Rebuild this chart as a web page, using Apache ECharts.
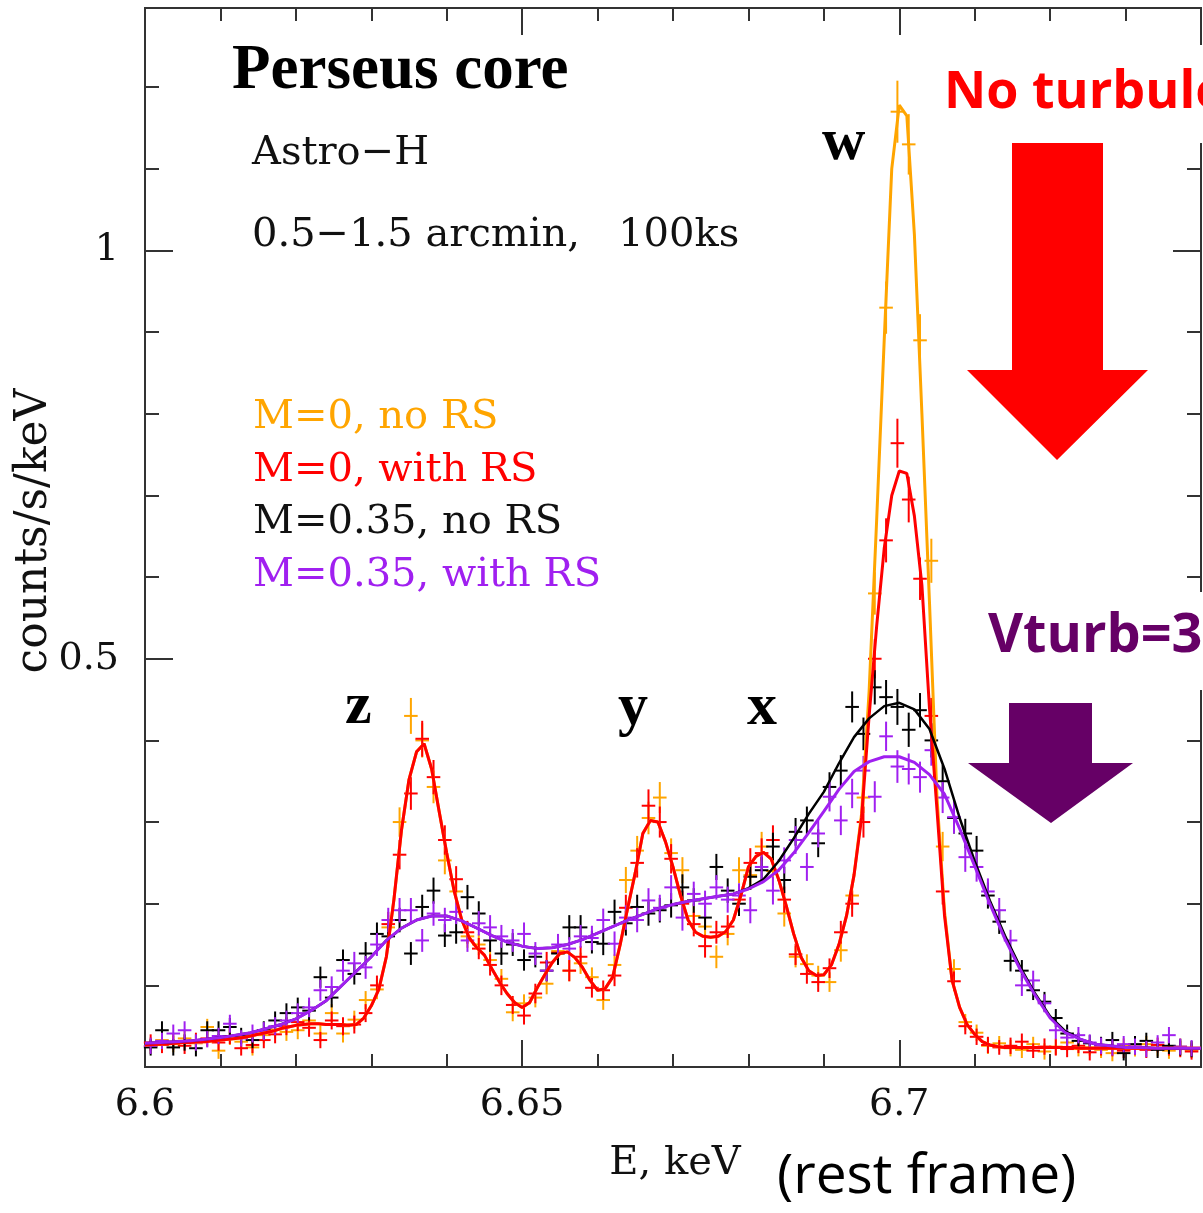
<!DOCTYPE html>
<html><head><meta charset="utf-8">
<script src="https://cdn.jsdelivr.net/npm/echarts@6/dist/echarts.min.js"></script>
<style>html,body{margin:0;padding:0;background:#fff}#c{width:1203px;height:1213px}</style>
</head><body><div id="c"></div>
<script>
// ---------------- axis ticks ----------------
const xTickLabels = ['6.6', '6.65', '6.7'];
const yTickLabels = ['0.5', '1'];

// ---------------- model curves ----------------
// M=0 models on a 0.001 keV grid 6.600 .. 6.740
const modelFineStart = 6.600, modelFineStep = 0.001;
const modelRedNoTurb = [
0.027,0.0275,0.028,0.0285,0.029,0.030,0.030,0.031,0.031,0.032,
0.033,0.034,0.035,0.036,0.038,0.040,0.042,0.044,0.047,0.049,
0.051,0.052,0.053,0.053,0.052,0.052,0.052,0.051,0.052,0.060,
0.075,0.095,0.135,0.205,0.290,0.352,0.386,0.396,0.365,0.313,
0.262,0.215,0.180,0.158,0.146,0.137,0.120,0.104,0.090,0.079,
0.073,0.079,0.097,0.113,0.128,0.139,0.141,0.134,0.122,0.106,
0.094,0.096,0.110,0.150,0.195,0.238,0.286,0.302,0.300,0.276,
0.245,0.210,0.180,0.165,0.160,0.159,0.160,0.166,0.180,0.210,
0.245,0.258,0.263,0.255,0.230,0.198,0.163,0.134,0.118,0.112,
0.113,0.125,0.150,0.185,0.235,0.305,0.430,0.540,0.635,0.700,
0.730,0.727,0.675,0.590,0.440,0.315,0.185,0.106,0.073,0.052,
0.040,0.031,0.027,0.025,0.024,0.024,0.024,0.024,0.024,0.024,
0.024,0.024,0.024,0.024,0.023,0.023,0.023,0.023,0.023,0.023,
0.023,0.023,0.023,0.023,0.023,0.023,0.023,0.023,0.023,0.023,
0.023];
const modelOrangeNoTurb = [
0.027,0.0275,0.028,0.0285,0.029,0.030,0.030,0.031,0.031,0.032,
0.033,0.034,0.035,0.036,0.038,0.040,0.042,0.044,0.047,0.049,
0.051,0.052,0.053,0.053,0.052,0.052,0.052,0.051,0.052,0.060,
0.075,0.095,0.135,0.205,0.290,0.352,0.386,0.396,0.365,0.313,
0.262,0.215,0.180,0.158,0.146,0.137,0.120,0.104,0.090,0.079,
0.073,0.079,0.097,0.113,0.128,0.139,0.141,0.134,0.122,0.106,
0.094,0.096,0.110,0.150,0.195,0.238,0.286,0.302,0.300,0.276,
0.245,0.210,0.180,0.165,0.160,0.159,0.160,0.166,0.180,0.210,
0.245,0.258,0.263,0.255,0.230,0.198,0.163,0.134,0.118,0.112,
0.113,0.125,0.150,0.185,0.235,0.310,0.460,0.670,0.890,1.100,
1.178,1.165,1.020,0.800,0.570,0.330,0.190,0.106,0.073,0.052,
0.040,0.031,0.027,0.025,0.024,0.024,0.024,0.024,0.024,0.024,
0.024,0.024,0.024,0.024,0.023,0.023,0.023,0.023,0.023,0.023,
0.023,0.023,0.023,0.023,0.023,0.023,0.023,0.023,0.023,0.023,
0.023];
// M=0.35 models on a 0.002 keV grid 6.600 .. 6.740
const modelCoarseStart = 6.600, modelCoarseStep = 0.002;
const modelBlackTurb = [
0.029,0.030,0.031,0.032,0.034,0.036,0.039,0.042,0.047,0.052,
0.059,0.069,0.081,0.099,0.117,0.135,0.155,0.170,0.180,0.185,
0.185,0.179,0.170,0.161,0.153,0.148,0.145,0.146,0.150,0.156,
0.164,0.172,0.180,0.187,0.194,0.199,0.203,0.206,0.209,0.212,
0.219,0.230,0.252,0.280,0.310,0.337,0.372,0.404,0.427,0.442,
0.446,0.438,0.414,0.365,0.305,0.252,0.204,0.161,0.123,0.090,
0.062,0.044,0.034,0.028,0.026,0.024,0.024,0.023,0.023,0.023,
0.023];
const modelPurpleTurb = [
0.029,0.030,0.031,0.032,0.034,0.036,0.039,0.042,0.047,0.052,
0.059,0.069,0.081,0.099,0.117,0.135,0.155,0.170,0.180,0.185,
0.185,0.179,0.170,0.161,0.153,0.148,0.145,0.146,0.150,0.156,
0.164,0.172,0.180,0.187,0.194,0.199,0.203,0.206,0.209,0.212,
0.218,0.227,0.241,0.262,0.287,0.313,0.340,0.362,0.374,0.380,
0.380,0.373,0.358,0.334,0.292,0.246,0.200,0.157,0.120,0.088,
0.060,0.042,0.034,0.028,0.026,0.024,0.024,0.023,0.023,0.023,
0.023];

// ---------------- simulated spectra (bins of 0.0015 keV, centres from 6.60075) ----------------
const binStart = 6.60075, binStep = 0.0015, crossHalfWidth = 0.0009;
const dataOrange = [
0.026,0.033,0.028,0.035,0.029,0.049,0.020,0.037,0.031,0.024,
0.039,0.046,0.043,0.045,0.057,0.041,0.066,0.041,0.058,0.082,
0.095,0.171,0.300,0.430,0.400,0.343,0.253,0.215,0.160,0.150,
0.131,0.108,0.067,0.078,0.085,0.102,0.142,0.118,0.127,0.110,
0.082,0.125,0.229,0.265,0.305,0.330,0.262,0.241,0.185,0.172,
0.135,0.163,0.241,0.235,0.270,0.240,0.188,0.135,0.126,0.112,
0.104,0.143,0.210,0.330,0.580,0.930,1.170,1.130,0.890,0.620,
0.270,0.120,0.055,0.042,0.026,0.029,0.023,0.021,0.028,0.019,
0.025,0.030,0.022,0.024,0.021,0.017,0.026,0.023,0.028,0.022,
0.020,0.025,0.021];
const errOrange = [
10,10,10,10,10,10,10,10,9,10,10,11,11,11,11,10,11,11,11,
11,12,15,18,22,21,20,17,16,14,13,13,12,11,11,12,13,13,13,13,12,12,13,16,18,20,19,18,16,15,14,14,14,16,18,18,18,16,13,12,12,12,14,16,19,26,32,38,37,32,27,18,12,10,10,
10,9,10,10,9,10,10,10,9,10,10,10,9,10,10,9,10,10,10];
const dataRed = [
0.030,0.027,0.031,0.026,0.032,0.035,0.030,0.038,0.023,0.027,
0.033,0.040,0.050,0.055,0.048,0.033,0.057,0.050,0.052,0.066,
0.100,0.175,0.260,0.335,0.402,0.355,0.278,0.230,0.165,0.145,
0.125,0.100,0.076,0.063,0.090,0.128,0.140,0.118,0.135,0.097,
0.094,0.112,0.195,0.250,0.320,0.300,0.255,0.200,0.175,0.148,
0.165,0.172,0.205,0.250,0.262,0.278,0.205,0.138,0.114,0.104,
0.121,0.165,0.200,0.300,0.500,0.645,0.764,0.695,0.598,0.430,
0.215,0.105,0.050,0.037,0.027,0.024,0.026,0.031,0.020,0.025,
0.024,0.022,0.026,0.018,0.024,0.023,0.020,0.025,0.021,0.027,
0.024,0.022,0.019];
const errRed = [
10,10,10,10,10,10,10,10,9,10,10,11,11,11,11,10,11,11,11,
11,12,15,18,20,22,21,18,16,14,13,13,12,11,11,12,13,13,13,13,12,12,13,16,18,20,19,18,16,15,14,14,14,16,18,18,18,16,13,12,12,12,14,16,19,24,27,30,28,26,22,16,12,10,10,
10,9,10,10,9,10,10,10,9,10,10,10,9,10,10,9,10,10,10];
const dataBlack = [
0.024,0.045,0.024,0.030,0.023,0.045,0.045,0.049,0.038,0.033,
0.045,0.057,0.066,0.073,0.069,0.110,0.085,0.131,0.114,0.139,
0.163,0.160,0.180,0.139,0.196,0.216,0.161,0.165,0.208,0.188,
0.155,0.139,0.150,0.131,0.135,0.118,0.139,0.171,0.171,0.153,
0.151,0.190,0.176,0.196,0.188,0.192,0.198,0.220,0.204,0.183,
0.245,0.216,0.200,0.233,0.241,0.270,0.229,0.288,0.302,0.274,
0.343,0.363,0.441,0.408,0.465,0.453,0.441,0.413,0.437,0.400,
0.350,0.305,0.286,0.265,0.210,0.178,0.130,0.118,0.094,0.080,
0.060,0.041,0.032,0.029,0.027,0.033,0.017,0.028,0.032,0.021,
0.026,0.024,0.022];
const errBlack = [
10,11,10,10,10,11,11,11,10,10,11,11,12,12,12,13,12,13,13,
14,14,14,15,14,15,16,14,14,15,15,14,14,14,13,13,13,14,15,15,14,14,15,15,15,15,15,15,16,15,15,16,15,15,16,16,17,16,17,17,17,18,19,19,20,21,21,22,21,21,21,20,19,18,18,
16,15,13,13,12,12,11,11,10,10,10,10,9,10,10,10,10,10,10];
const dataPurple = [
0.026,0.032,0.041,0.045,0.030,0.034,0.038,0.053,0.035,0.041,
0.044,0.050,0.057,0.066,0.073,0.094,0.098,0.118,0.127,0.122,
0.150,0.180,0.192,0.192,0.155,0.188,0.180,0.190,0.155,0.176,
0.171,0.160,0.155,0.163,0.139,0.118,0.150,0.145,0.160,0.158,
0.180,0.151,0.183,0.180,0.204,0.195,0.220,0.183,0.212,0.200,
0.220,0.205,0.210,0.192,0.245,0.216,0.253,0.278,0.245,0.286,
0.331,0.302,0.335,0.363,0.331,0.405,0.368,0.365,0.355,0.388,
0.330,0.306,0.257,0.245,0.215,0.192,0.155,0.100,0.106,0.078,
0.045,0.036,0.039,0.030,0.026,0.024,0.028,0.025,0.022,0.030,
0.039,0.025,0.023];
const errPurple = [
10,10,11,11,10,10,10,11,10,11,11,11,12,12,12,13,13,13,14,
14,14,15,15,15,14,15,15,15,14,15,15,14,14,14,14,13,13,14,14,15,14,15,15,15,15,16,15,16,15,16,15,16,15,16,16,17,16,17,17,17,18,18,18,18,19,18,20,19,19,19,19,20,18,18,
16,15,13,13,12,11,11,10,10,10,10,10,10,10,10,9,10,10,10];

const COL = {orange:'#FFA500', red:'#FF0000', black:'#000000', purple:'#A020F0'};

function modelPairs(start, step, vals){ return vals.map((v,i)=>[+(start+i*step).toFixed(4), v]); }
function binRows(vals, errs){ return vals.map((v,i)=>[+(binStart+i*binStep).toFixed(5), v, crossHalfWidth, errs[i]/1000]); }

function crossSeries(name, color, rows){
  return {
    name, type:'custom', xAxisIndex:0, yAxisIndex:0, data:rows, encode:{x:0,y:1},
    renderItem:function(params, api){
      const e=api.value(0), v=api.value(1), hw=api.value(2), er=api.value(3);
      const l=api.coord([e-hw,v]), r=api.coord([e+hw,v]);
      const t=api.coord([e,v+er]), b=api.coord([e,v-er]);
      const st={stroke:color, lineWidth:2};
      return {type:'group', children:[
        {type:'line', shape:{x1:l[0],y1:l[1],x2:r[0],y2:r[1]}, style:st},
        {type:'line', shape:{x1:t[0],y1:t[1],x2:b[0],y2:b[1]}, style:st}
      ]};
    }
  };
}
function lineSeries(name, color, pairs, w){
  return {name, type:'line', xAxisIndex:0, yAxisIndex:0, data:pairs, showSymbol:false, symbol:'none',
    lineStyle:{color, width:w}, itemStyle:{color}};
}

const AXC = '#333';
const LBL = {fontFamily:'DejaVu Serif', fontSize:38, color:'#111'};
function xAx(gi, pos, interval, len, labels){
  return {gridIndex:gi, type:'value', position:pos, min:6.6, max:6.74, interval,
    axisLine:{show:true, onZero:false, lineStyle:{color:AXC, width:2}},
    axisTick:{show:true, inside:true, length:len, lineStyle:{color:AXC, width:2}},
    minorTick:{show:false}, splitLine:{show:false},
    axisLabel: labels ? Object.assign({show:true, margin:19, showMaxLabel:false,
      formatter:function(v){ const m=xTickLabels.find(s=>Math.abs(parseFloat(s)-v)<1e-6); return m||''; }}, LBL) : {show:false}};
}
function yAx(gi, pos, interval, len, labels){
  return {gridIndex:gi, type:'value', position:pos, min:0, max:1.297, interval,
    axisLine:{show:true, onZero:false, lineStyle:{color:AXC, width:2}},
    axisTick:{show:true, inside:true, length:len, lineStyle:{color:AXC, width:2}},
    minorTick:{show:false}, splitLine:{show:false},
    axisLabel: labels ? Object.assign({show:true, margin:26, showMaxLabel:false, showMinLabel:false,
      formatter:function(v){ const m=yTickLabels.find(s=>Math.abs(parseFloat(s)-v)<1e-6); return m||''; }}, LBL) : {show:false}};
}

const gridBox = {left:145, top:8, right:2, bottom:146, containLabel:false};

function txt(x, y, text, font, fill, extra){
  return Object.assign({type:'text', x, y, z:110, style:{text, font, fill, align:'left', verticalAlign:'middle'}}, extra||{});
}
const SERIF = '"DejaVu Serif", serif';
const graphics = [
  {type:'rect', z:100, shape:{x:938, y:45, width:270, height:98}, style:{fill:'#fff'}},
  {type:'rect', z:100, shape:{x:975, y:592, width:232, height:98}, style:{fill:'#fff'}},
  {type:'polygon', z:105, shape:{points:[[1012,143],[1103,143],[1103,370],[1148,370],[1057,460],[967,370],[1012,370]]}, style:{fill:'#FF0000'}},
  {type:'polygon', z:105, shape:{points:[[1009,703],[1092,703],[1092,763],[1133,763],[1051,823],[968,763],[1009,763]]}, style:{fill:'#660066'}},
  txt(232, 72, 'Perseus core', 'bold 63px "Liberation Serif"', '#000'),
  txt(252, 154, 'Astro\u2212H', '40px '+SERIF, '#111'),
  txt(252, 236, '0.5\u22121.5 arcmin,   100ks', '40px '+SERIF, '#111'),
  txt(253, 418, 'M=0, no RS', '40px '+SERIF, COL.orange),
  txt(253, 471, 'M=0, with RS', '40px '+SERIF, COL.red),
  txt(253, 523, 'M=0.35, no RS', '40px '+SERIF, '#111'),
  txt(253, 576, 'M=0.35, with RS', '40px '+SERIF, COL.purple),
  txt(822, 143, 'w', 'bold 60px "Liberation Serif"', '#000'),
  txt(345, 707, 'z', 'bold 60px "Liberation Serif"', '#000'),
  txt(618, 708, 'y', 'bold 60px "Liberation Serif"', '#000'),
  txt(747, 708, 'x', 'bold 60px "Liberation Serif"', '#000'),
  txt(944, 93, 'No turbulence', 'bold 52px "Open Sans"', '#FF0000'),
  txt(988, 637, 'Vturb=300 km/s', 'bold 54px "Open Sans"', '#660066'),
  txt(777, 1177, '(rest frame)', '55px "Open Sans"', '#000'),
  {type:'text', x:675, y:1164, z:110, style:{text:'E, keV', font:'40px '+SERIF, fill:'#111', align:'center', verticalAlign:'middle'}},
  {type:'text', x:35, y:531, z:110, rotation:Math.PI/2, style:{text:'counts/s/keV', font:'44px '+SERIF, fill:'#111', align:'center', verticalAlign:'middle'}}
];

const chart = echarts.init(document.getElementById('c'), null, {renderer:'canvas'});
chart.setOption({
  animation:false,
  backgroundColor:'#fff',
  grid:[gridBox, Object.assign({}, gridBox)],
  xAxis:[xAx(0,'bottom',0.05,27,true), xAx(0,'top',0.05,27,false), xAx(1,'bottom',0.01,13,false), xAx(1,'top',0.01,13,false)],
  yAxis:[yAx(0,'left',0.5,28,true), yAx(0,'right',0.5,28,false), yAx(1,'left',0.1,14,false), yAx(1,'right',0.1,14,false)],
  series:[
    crossSeries('M=0, no RS data', COL.orange, binRows(dataOrange, errOrange)),
    lineSeries('M=0, no RS', COL.orange, modelPairs(modelFineStart, modelFineStep, modelOrangeNoTurb), 3),
    crossSeries('M=0, with RS data', COL.red, binRows(dataRed, errRed)),
    lineSeries('M=0, with RS', COL.red, modelPairs(modelFineStart, modelFineStep, modelRedNoTurb), 3),
    crossSeries('M=0.35, no RS data', COL.black, binRows(dataBlack, errBlack)),
    lineSeries('M=0.35, no RS', COL.black, modelPairs(modelCoarseStart, modelCoarseStep, modelBlackTurb), 2.5),
    crossSeries('M=0.35, with RS data', COL.purple, binRows(dataPurple, errPurple)),
    lineSeries('M=0.35, with RS', COL.purple, modelPairs(modelCoarseStart, modelCoarseStep, modelPurpleTurb), 3)
  ],
  graphic:graphics
});
</script></body></html>
